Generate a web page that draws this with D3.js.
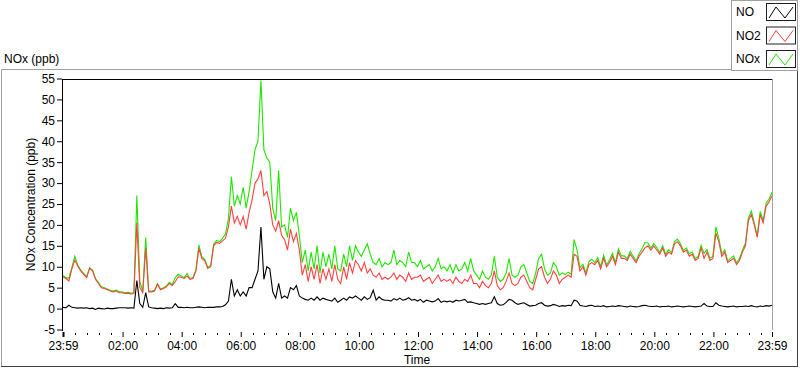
<!DOCTYPE html>
<html>
<head>
<meta charset="utf-8">
<script src="https://cdn.jsdelivr.net/npm/d3@7/dist/d3.min.js"></script>
<style>
  html, body { margin: 0; padding: 0; background: #fff; }
  svg { display: block; }
  text { font-family: "Liberation Sans", Arial, sans-serif; font-size: 12px; fill: #000; }
</style>
</head>
<body>
<div id="chart"></div>
<script>
// ---- data (6-minute samples from 23:59 to 23:59 next day) ----
const sampleStepMin = 6;
const seriesNames = ["NO", "NO2", "NOx"];
const seriesColors = ["#000000", "#ff4040", "#1ee600"];

const no2 = [
  7.6, 7.2, 6.6, 9.5, 11.6, 10.2, 9.0, 8.2, 7.4, 9.6,
  9.0, 7.0, 6.0, 5.0, 4.8, 4.5, 4.2, 4.0, 4.2, 3.8,
  3.8, 3.6, 3.7, 3.5, 3.6, 20.5, 5.0, 3.8, 14.5, 4.0,
  4.0, 4.2, 5.8, 4.5, 4.8, 5.2, 6.0, 5.5, 6.4, 7.6,
  7.5, 7.2, 7.8, 7.0, 7.2, 9.0, 14.4, 12.0, 11.4, 9.6,
  10.0, 15.0, 15.8, 15.6, 16.2, 16.8, 19.5, 24.5, 20.5, 22.0,
  20.0, 22.0, 19.0, 23.0, 26.0, 30.0, 31.0, 33.0, 27.0, 28.0,
  25.0, 20.0, 18.5, 21.0, 17.5, 16.5, 14.0, 19.0, 16.0, 18.0,
  14.0, 8.0, 10.5, 6.5, 10.0, 7.0, 10.5, 6.0, 9.5, 7.0,
  9.5, 6.5, 10.5, 7.0, 6.0, 10.0, 7.0, 11.0, 8.5, 11.5,
  10.5, 9.0, 11.0, 8.5, 9.5, 8.0, 7.5, 8.5, 7.0, 7.5,
  7.0, 7.5, 8.5, 7.0, 8.0, 7.5, 6.5, 8.5, 7.0, 7.5,
  7.5, 8.0, 6.5, 7.0, 7.5, 6.0, 7.0, 8.0, 6.5, 7.0,
  6.5, 7.0, 6.0, 7.5, 6.5, 6.0, 7.0, 6.5, 8.0, 6.0,
  6.0, 5.0, 6.5, 5.5, 5.0, 6.0, 9.0, 5.5, 4.5, 5.0,
  6.5, 8.5, 6.0, 5.5, 6.0, 7.5, 8.0, 6.5, 5.0, 4.5,
  7.0, 9.5, 10.0, 7.5, 6.0, 7.0, 9.0, 8.0, 6.0, 7.0,
  7.5, 8.0, 7.5, 13.0, 12.5, 9.0, 10.0, 8.0, 10.5, 11.0,
  10.5, 11.5, 9.5, 12.0, 10.0, 11.0, 12.5, 10.5, 13.5, 12.0,
  12.0, 11.5, 13.0, 12.0, 11.0, 12.5, 13.5, 14.5, 15.0, 14.0,
  15.0, 14.0, 13.0, 14.5, 12.5, 13.5, 13.0, 15.5, 16.0, 15.0,
  13.5, 14.0, 12.5, 13.0, 11.5, 12.0, 14.5, 12.0, 13.5, 11.5,
  12.0, 18.0, 16.0, 12.5, 13.5, 11.0, 11.5, 12.0, 10.5, 11.5,
  13.5, 15.0, 21.0, 22.5, 20.0, 17.0, 22.5, 20.5, 24.5, 25.5, 27.0
];

const nox = [
  7.9, 7.4, 7.3, 9.8, 12.5, 10.4, 9.2, 8.4, 7.6, 9.8,
  9.2, 7.2, 6.2, 5.2, 5.0, 4.7, 4.4, 4.2, 4.4, 4.0,
  4.0, 3.8, 3.9, 3.7, 3.8, 27.0, 6.5, 4.0, 17.0, 4.2,
  4.2, 4.4, 6.0, 4.7, 5.0, 5.4, 6.3, 5.7, 7.4, 8.2,
  7.8, 7.4, 8.4, 7.2, 7.4, 9.3, 15.2, 12.4, 11.7, 9.9,
  10.3, 15.4, 16.3, 16.0, 16.8, 17.8, 21.5, 31.5, 24.5, 27.0,
  25.0, 29.0, 24.0, 28.0, 33.0, 38.0, 40.0, 54.5, 38.0, 36.0,
  35.0, 24.0, 21.0, 33.0, 19.5, 20.0, 17.0, 24.0, 21.0, 23.0,
  17.5, 11.0, 14.0, 9.0, 13.5, 9.5, 15.0, 8.5, 13.5, 10.0,
  13.0, 9.5, 15.0, 9.5, 9.0, 13.0, 10.0, 15.0, 11.5, 15.0,
  13.5, 12.5, 14.0, 15.5, 13.0, 11.0, 10.5, 12.0, 10.0, 11.0,
  10.5, 11.0, 14.0, 10.5, 11.5, 11.0, 10.0, 13.5, 11.0, 11.0,
  10.0, 11.5, 9.5, 10.0, 10.5, 9.0, 10.0, 12.0, 9.5, 10.0,
  9.0, 10.5, 8.5, 10.5, 9.0, 9.5, 11.0, 9.0, 12.0, 9.0,
  8.0, 7.0, 9.0, 7.5, 7.0, 8.0, 12.5, 7.5, 6.5, 7.0,
  8.5, 12.0, 8.0, 7.5, 8.0, 10.0, 10.5, 8.5, 6.5, 6.0,
  8.5, 12.0, 13.0, 9.5, 8.0, 8.5, 11.0, 10.0, 8.0, 8.5,
  8.1, 8.7, 8.2, 16.5, 14.0, 9.8, 10.6, 8.5, 11.2, 11.8,
  11.0, 12.2, 10.0, 12.8, 10.4, 11.6, 13.2, 11.0, 14.3, 12.6,
  12.6, 11.9, 13.7, 12.5, 11.4, 13.1, 14.3, 15.8, 15.7, 14.5,
  15.5, 14.6, 13.4, 15.0, 13.0, 14.1, 13.4, 16.0, 16.6, 15.5,
  13.9, 14.5, 13.1, 13.5, 11.9, 12.5, 15.1, 13.2, 14.1, 12.0,
  12.5, 19.5, 16.8, 13.1, 14.0, 11.4, 12.0, 12.6, 10.9, 12.0,
  14.0, 15.6, 21.6, 23.3, 20.5, 17.4, 23.2, 21.0, 25.2, 26.2, 27.8
];

const no = [
  0.3, 0.2, 0.8, 0.3, 0.2, 0.1, 0.2, 0.1, 0.2, 0.0,
  0.1, -0.2, 0.1, 0.0, -0.1, 0.1, 0.0, 0.0, 0.1, 0.2,
  0.2, 0.2, 0.1, 0.2, 0.1, 6.7, 1.2, 0.3, 3.8, 0.4,
  0.2, 0.1, 0.0, 0.1, 0.0, 0.2, 0.1, 0.2, 1.2, 0.3,
  0.3, 0.2, 0.3, 0.2, 0.2, 0.3, 0.4, 0.3, 0.2, 0.3,
  0.3, 0.3, 0.4, 0.4, 0.5, 0.9, 1.8, 7.0, 3.0, 4.5,
  3.0, 4.0, 3.0, 5.0, 5.0, 7.0, 9.0, 19.5, 7.0, 10.0,
  9.5, 4.0, 2.5, 6.0, 2.5, 3.0, 2.5, 5.0, 4.5, 5.5,
  3.0, 2.5, 2.2, 2.0, 2.5, 2.0, 2.8, 2.0, 2.5, 2.2,
  2.0, 1.8, 2.5, 1.5, 2.0, 2.5, 2.0, 2.8, 2.5, 3.0,
  2.5, 2.0, 2.8, 2.2, 2.6, 4.4, 2.0, 2.8, 2.2, 2.0,
  2.0, 1.8, 2.4, 2.0, 2.5, 2.0, 2.2, 2.6, 2.0, 2.2,
  1.8, 2.2, 1.5, 2.0, 1.8, 1.6, 1.8, 2.4, 1.5, 1.8,
  1.6, 1.8, 1.5, 2.0, 1.8, 2.0, 2.2, 1.5, 1.6, 1.4,
  1.2, 1.0, 1.2, 1.0, 1.2, 1.4, 2.8, 1.2, 0.8, 0.9,
  1.5, 2.2, 2.0, 1.4, 1.0, 1.2, 1.4, 1.0, 0.6, 0.7,
  0.8, 1.2, 1.4, 0.8, 0.6, 0.7, 1.0, 0.8, 0.5, 0.7,
  0.6, 0.8, 0.7, 2.0, 1.8, 0.8, 0.6, 0.5, 0.7, 0.8,
  0.5, 0.6, 0.5, 0.7, 0.4, 0.5, 0.6, 0.5, 0.7, 0.6,
  0.5, 0.4, 0.6, 0.5, 0.4, 0.5, 0.7, 0.8, 0.6, 0.5,
  0.5, 0.6, 0.4, 0.5, 0.5, 0.6, 0.4, 0.5, 0.6, 0.5,
  0.4, 0.5, 0.6, 0.5, 0.4, 0.5, 0.6, 1.2, 0.6, 0.5,
  0.5, 1.4, 0.8, 0.6, 0.5, 0.4, 0.5, 0.6, 0.4, 0.5,
  0.5, 0.6, 0.5, 0.7, 0.5, 0.4, 0.6, 0.5, 0.7, 0.6, 0.8
];

const yTickValues = [-5, 0, 5, 10, 15, 20, 25, 30, 35, 40, 45, 50, 55];
const xTickMinutes = [0, 121, 241, 361, 481, 601, 721, 841, 961, 1081, 1201, 1321, 1440];
const xTickLabels = ["23:59", "02:00", "04:00", "06:00", "08:00", "10:00", "12:00",
                     "14:00", "16:00", "18:00", "20:00", "22:00", "23:59"];

// ---- layout ----
const W = 800, H = 369;
const plot = { left: 62, right: 772, top: 79, bottom: 330 };

const svg = d3.select("#chart").append("svg").attr("width", W).attr("height", H);

// outer frame
svg.append("line").attr("x1", 1.5).attr("x2", 731).attr("y1", 69.5).attr("y2", 69.5).attr("stroke", "#a0a0a0");
svg.append("line").attr("x1", 1.5).attr("x2", 1.5).attr("y1", 69.5).attr("y2", 367).attr("stroke", "#a0a0a0");
svg.append("line").attr("x1", 1).attr("x2", 798).attr("y1", 366.5).attr("y2", 366.5).attr("stroke", "#404040");
svg.append("line").attr("x1", 797.5).attr("x2", 797.5).attr("y1", 71).attr("y2", 367).attr("stroke", "#404040");

// title
svg.append("text").attr("x", 4).attr("y", 63).text("NOx (ppb)");

// legend
const lg = svg.append("g");
lg.append("rect").attr("x", 731.5).attr("y", 0.5).attr("width", 66).attr("height", 70)
  .attr("fill", "#fff").attr("stroke", "#a0a0a0");
seriesNames.forEach((name, i) => {
  const y0 = 3 + i * 23.5;
  lg.append("text").attr("x", 736).attr("y", y0 + 13).text(name);
  lg.append("rect").attr("x", 766.5).attr("y", y0 + 0.5).attr("width", 29).attr("height", 17)
    .attr("fill", "#fff").attr("stroke", "#202020");
  lg.append("path")
    .attr("d", `M${769},${y0 + 15} L${776},${y0 + 4} L${785},${y0 + 15} L${793},${y0 + 4}`)
    .attr("fill", "none").attr("stroke", seriesColors[i]).attr("stroke-width", 1);
});

// scales
const x = d3.scaleLinear().domain([0, 1440]).range([plot.left + 1, plot.right]);
const y = d3.scaleLinear().domain([-5, 55]).range([plot.bottom - 0.5, plot.top - 0.5]);

// plot border
svg.append("line").attr("x1", plot.left).attr("x2", plot.right).attr("y1", plot.top + 0.5).attr("y2", plot.top + 0.5).attr("stroke", "#000");
svg.append("line").attr("x1", plot.right + 0.5).attr("x2", plot.right + 0.5).attr("y1", plot.top).attr("y2", plot.bottom).attr("stroke", "#a0a0a0");
svg.append("line").attr("x1", plot.left + 0.5).attr("x2", plot.left + 0.5).attr("y1", plot.top).attr("y2", plot.bottom + 1).attr("stroke", "#000");

// y axis
const yAxis = d3.axisLeft(y).tickValues(yTickValues).tickSize(5).tickPadding(2)
  .tickFormat(d => d < 0 ? "-" + Math.abs(d) : String(d));
const gy = svg.append("g").attr("transform", `translate(${plot.left},0)`).call(yAxis);
gy.select(".domain").remove();
gy.selectAll("text").style("font-family", "Liberation Sans, Arial, sans-serif").style("font-size", "12px").attr("fill", "#000");
gy.selectAll("line").attr("stroke", "#000");

// x axis: major ticks
const xAxis = d3.axisBottom(x).tickValues(xTickMinutes).tickSize(5).tickPadding(4)
  .tickFormat((d, i) => xTickLabels[i]);
const gx = svg.append("g").attr("transform", `translate(0,${plot.bottom + 2})`).call(xAxis);
gx.select(".domain").remove();
gx.selectAll("text").style("font-family", "Liberation Sans, Arial, sans-serif").style("font-size", "12px").attr("fill", "#000");
gx.selectAll("line").attr("stroke", "#000");
gx.select(".tick line").attr("stroke-width", 2);

// x axis: minor ticks
const minor = d3.range(1, 1440, 24).filter(m => !xTickMinutes.some(t => Math.abs(t - m) < 3));
svg.append("g").selectAll("line").data(minor).join("line")
  .attr("x1", d => Math.round(x(d)) + 0.5).attr("x2", d => Math.round(x(d)) + 0.5)
  .attr("y1", plot.bottom + 3).attr("y2", plot.bottom + 5).attr("stroke", "#000");

// axis titles
svg.append("text").attr("transform", `translate(35,${(plot.top + plot.bottom) / 2}) rotate(-90)`)
  .attr("text-anchor", "middle").text("NOx Concentration (ppb)");
svg.append("text").attr("x", (plot.left + plot.right) / 2).attr("y", 364)
  .attr("text-anchor", "middle").text("Time");

// clip
svg.append("clipPath").attr("id", "clip").append("rect")
  .attr("x", plot.left + 1).attr("y", plot.top + 1)
  .attr("width", plot.right - plot.left - 1).attr("height", plot.bottom - plot.top);

const line = d3.line().x((d, i) => x(i * sampleStepMin)).y(d => y(d));
const g = svg.append("g").attr("clip-path", "url(#clip)");
[[nox, seriesColors[2]], [no2, seriesColors[1]], [no, seriesColors[0]]].forEach(([arr, c]) => {
  g.append("path").datum(arr).attr("d", line).attr("fill", "none")
    .attr("stroke", c).attr("stroke-width", 1.1);
});
</script>
</body>
</html>
